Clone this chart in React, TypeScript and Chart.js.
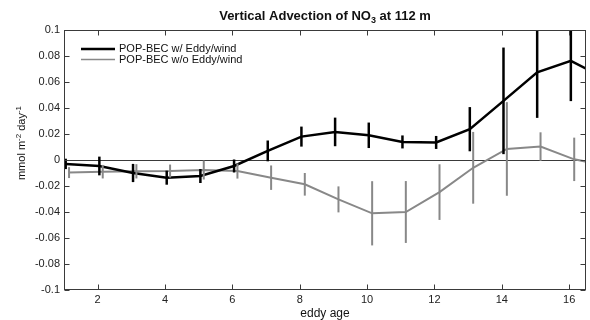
import React, { useEffect, useRef } from "react";
import { Chart, registerables } from "chart.js";

Chart.register(...registerables);

// ---- data ----
const eddyAge = [1, 2, 3, 4, 5, 6, 7, 8, 9, 10, 11, 12, 13, 14, 15, 16, 17];
const withEddy = [-0.003, -0.0046, -0.010, -0.0136, -0.0123, -0.0046, 0.007, 0.018, 0.0216, 0.019, 0.0139, 0.0135, 0.0237, 0.0455, 0.0674, 0.0763, 0.063];
const withEddyErr = [0.004, 0.0072, 0.007, 0.0054, 0.0054, 0.005, 0.008, 0.0077, 0.011, 0.0098, 0.005, 0.005, 0.017, 0.041, 0.035, 0.031, 0];
const withoutEddy = [-0.0097, -0.009, -0.0087, -0.0085, -0.0077, -0.0085, -0.0136, -0.0187, -0.0303, -0.041, -0.040, -0.0247, -0.006, 0.0085, 0.0103, 0.0005, -0.0045];
const withoutEddyErr = [0.0042, 0.0052, 0.0055, 0.005, 0.0073, 0.0058, 0.0094, 0.0087, 0.010, 0.0247, 0.0238, 0.0214, 0.0276, 0.036, 0.011, 0.0167, 0];
const xTicks = [2, 4, 6, 8, 10, 12, 14, 16];
const yTicks = [-0.1, -0.08, -0.06, -0.04, -0.02, 0, 0.02, 0.04, 0.06, 0.08, 0.1];
const seriesNames = ["POP-BEC w/ Eddy/wind", "POP-BEC w/o Eddy/wind"];
const dodge = [0.05, 0.15];

const BLACK = "#000000";
const GREY = "#888888";
const FRAME = "#3a3a3a";
const FONT = "'Liberation Sans', Arial, Helvetica, sans-serif";

const errors = [withEddyErr, withoutEddyErr];

const customPlugin = {
  id: "custom",
  beforeDatasetsDraw(chart: any) {
    const { ctx, chartArea: a, scales } = chart;
    const y0 = Math.round(scales.y.getPixelForValue(0)) + 0.5;
    ctx.save();
    ctx.strokeStyle = FRAME;
    ctx.lineWidth = 1;
    ctx.beginPath();
    ctx.moveTo(a.left, y0);
    ctx.lineTo(a.right, y0);
    ctx.stroke();
    ctx.restore();
  },
  afterDatasetsDraw(chart: any) {
    const { ctx, chartArea: a, scales } = chart;
    const xs = scales.x, ys = scales.y;
    ctx.save();
    ctx.beginPath();
    ctx.rect(a.left, a.top, a.right - a.left, a.bottom - a.top);
    ctx.clip();
    chart.data.datasets.forEach((ds: any, i: number) => {
      ctx.strokeStyle = ds.borderColor;
      ctx.lineWidth = i === 0 ? 2.5 : 2;
      ds.data.forEach((p: any, j: number) => {
        const e = errors[i][j];
        if (!e) return;
        const x = xs.getPixelForValue(p.x);
        ctx.beginPath();
        ctx.moveTo(x, ys.getPixelForValue(p.y + e));
        ctx.lineTo(x, ys.getPixelForValue(p.y - e));
        ctx.stroke();
      });
    });
    ctx.restore();

    // frame and inward ticks
    ctx.save();
    ctx.strokeStyle = FRAME;
    ctx.lineWidth = 1;
    const L = Math.round(a.left) + 0.5, R = Math.round(a.right) - 0.5;
    const T = Math.round(a.top) + 0.5, B = Math.round(a.bottom) - 0.5;
    ctx.strokeRect(L, T, R - L, B - T);
    const tl = 5;
    ctx.beginPath();
    xTicks.forEach((v) => {
      const x = Math.round(xs.getPixelForValue(v)) + 0.5;
      ctx.moveTo(x, B); ctx.lineTo(x, B - tl);
      ctx.moveTo(x, T); ctx.lineTo(x, T + tl);
    });
    yTicks.forEach((v) => {
      const y = Math.round(ys.getPixelForValue(v)) + 0.5;
      ctx.moveTo(L, y); ctx.lineTo(L + tl, y);
      ctx.moveTo(R, y); ctx.lineTo(R - tl, y);
    });
    ctx.stroke();

    // legend
    const lx0 = a.left + 17, lx1 = a.left + 51;
    const ly = [a.top + 19, a.top + 29.5];
    chart.data.datasets.forEach((ds: any, i: number) => {
      ctx.strokeStyle = ds.borderColor;
      ctx.lineWidth = i === 0 ? 2.5 : 1.5;
      ctx.beginPath();
      ctx.moveTo(lx0, ly[i]);
      ctx.lineTo(lx1, ly[i]);
      ctx.stroke();
      ctx.fillStyle = "#111";
      ctx.font = `11px ${FONT}`;
      ctx.textBaseline = "middle";
      ctx.textAlign = "left";
      ctx.fillText(seriesNames[i], lx1 + 4, ly[i]);
    });

    // title with subscript
    ctx.fillStyle = "#111";
    ctx.textBaseline = "alphabetic";
    const big = `bold 13px ${FONT}`;
    const small = `bold 9px ${FONT}`;
    const p1 = "Vertical Advection of NO", p2 = "3", p3 = " at 112 m";
    ctx.font = big; const w1 = ctx.measureText(p1).width; const w3 = ctx.measureText(p3).width;
    ctx.font = small; const w2 = ctx.measureText(p2).width;
    const cx = (a.left + a.right) / 2;
    let tx = cx - (w1 + w2 + w3) / 2;
    const tb = 20;
    ctx.textAlign = "left";
    ctx.font = big; ctx.fillText(p1, tx, tb); tx += w1;
    ctx.font = small; ctx.fillText(p2, tx, tb + 3); tx += w2;
    ctx.font = big; ctx.fillText(p3, tx, tb);

    // x title
    ctx.font = `12px ${FONT}`;
    ctx.textAlign = "center";
    ctx.fillText("eddy age", cx, 317);

    // y title with superscripts
    const parts: [string, boolean][] = [["mmol m", false], ["-2", true], [" day", false], ["-1", true]];
    const fN = `11px ${FONT}`, fS = `8px ${FONT}`;
    let total = 0;
    parts.forEach(([s, sup]) => { ctx.font = sup ? fS : fN; total += ctx.measureText(s).width; });
    ctx.translate(25, 143);
    ctx.rotate(-Math.PI / 2);
    let px = -total / 2;
    ctx.textAlign = "left";
    parts.forEach(([s, sup]) => {
      ctx.font = sup ? fS : fN;
      ctx.fillText(s, px, sup ? -4 : 0);
      px += ctx.measureText(s).width;
    });
    ctx.restore();
  },
};

export default function App() {
  const ref = useRef<HTMLCanvasElement>(null);
  useEffect(() => {
    if (!ref.current) return;
    const mk = (vals: number[], k: number) => vals.map((v, j) => ({ x: eddyAge[j] + dodge[k], y: v }));
    const chart = new Chart(ref.current, {
      type: "line",
      data: {
        datasets: [
          { label: seriesNames[0], data: mk(withEddy, 0), borderColor: BLACK, borderWidth: 2.5, pointRadius: 0, tension: 0, fill: false },
          { label: seriesNames[1], data: mk(withoutEddy, 1), borderColor: GREY, borderWidth: 2, pointRadius: 0, tension: 0, fill: false },
        ],
      },
      options: {
        responsive: false,
        animation: false,
        layout: { padding: { left: 0, right: 4, top: 30, bottom: 0 } },
        plugins: { legend: { display: false }, title: { display: false }, tooltip: { enabled: false } },
        scales: {
          x: {
            type: "linear",
            min: 1,
            max: 16.5,
            grid: { display: false, drawTicks: false },
            border: { display: false },
            afterBuildTicks: (s: any) => { s.ticks = xTicks.map((v) => ({ value: v })); },
            afterFit: (s: any) => { s.height = 30; },
            ticks: { padding: 3, color: "#222", font: { family: FONT, size: 11 }, maxRotation: 0, autoSkip: false, callback: (v: any) => String(v) },
          },
          y: {
            type: "linear",
            min: -0.1,
            max: 0.1,
            grid: { display: false, drawTicks: false },
            border: { display: false },
            afterBuildTicks: (s: any) => { s.ticks = yTicks.map((v) => ({ value: v })); },
            afterFit: (s: any) => { s.width = 64; },
            ticks: {
              padding: 4, color: "#222", font: { family: FONT, size: 11 }, autoSkip: false,
              callback: (v: any) => { const n = Number(Number(v).toFixed(2)); return n === 0 ? "0" : String(n); },
            },
          },
        },
      },
      plugins: [customPlugin],
    } as any);
    return () => chart.destroy();
  }, []);
  return (
    <div style={{ position: "absolute", left: 0, top: 0, width: 590, height: 320, background: "#fff" }}>
      <canvas ref={ref} width={590} height={320} />
    </div>
  );
}
